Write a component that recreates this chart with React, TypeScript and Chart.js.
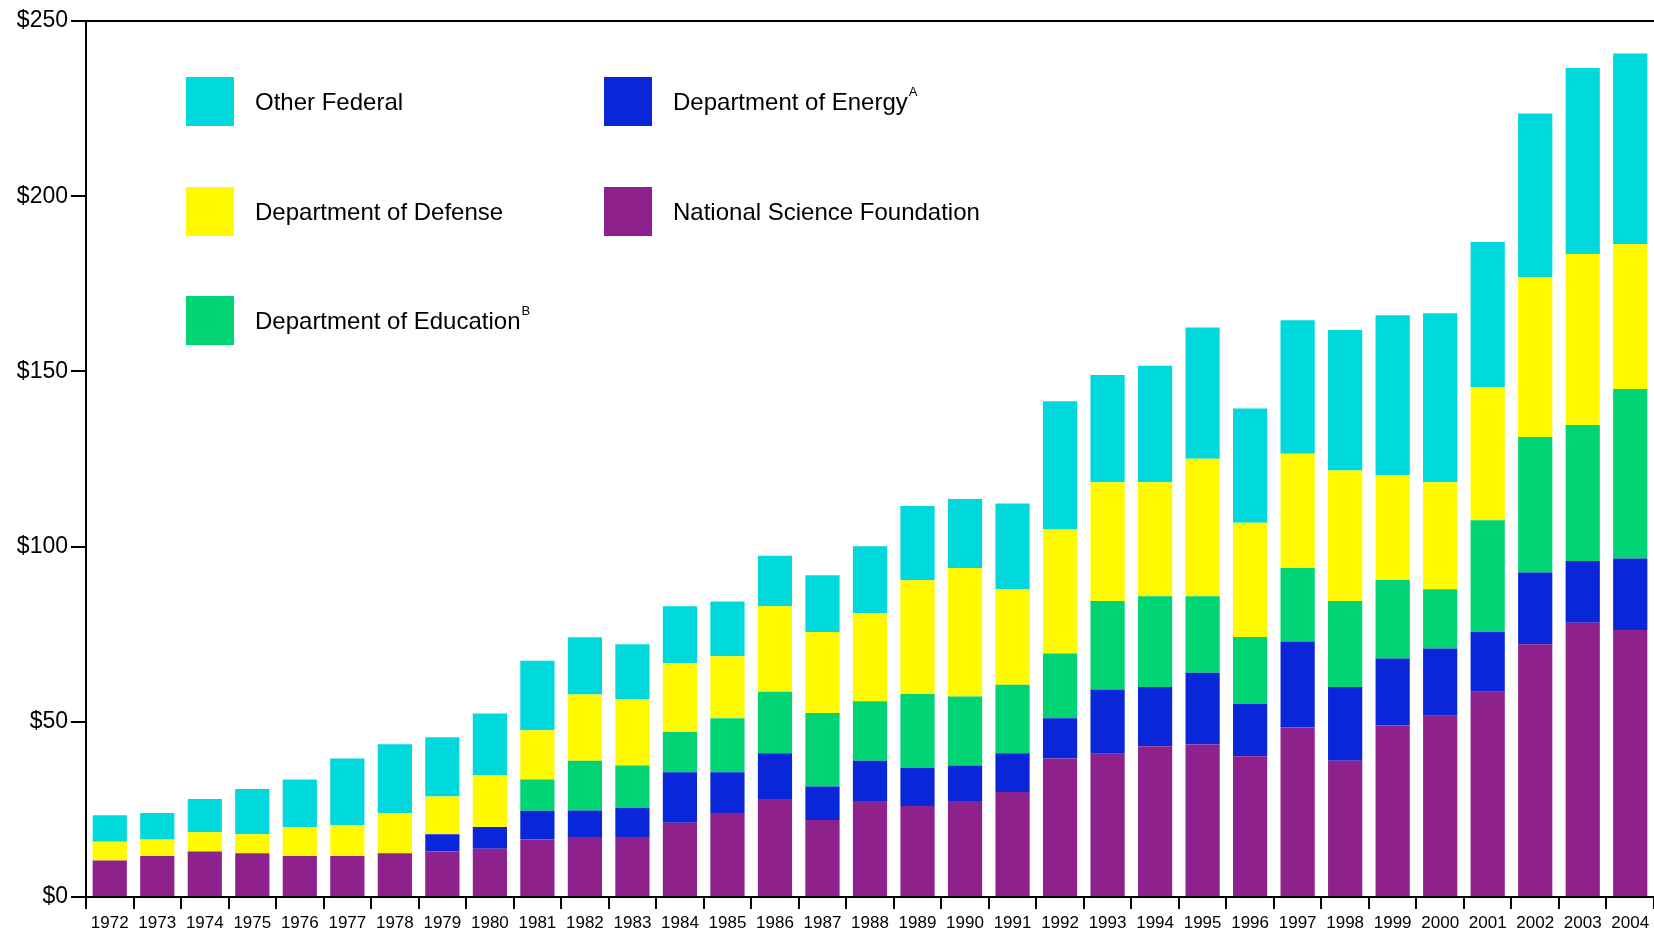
import React, { useEffect, useRef } from "react";
import { Chart, registerables } from "chart.js";

Chart.register(...registerables);

const years = [
  "1972", "1973", "1974", "1975", "1976", "1977", "1978", "1979", "1980", "1981", "1982",
  "1983", "1984", "1985", "1986", "1987", "1988", "1989", "1990", "1991", "1992", "1993",
  "1994", "1995", "1996", "1997", "1998", "1999", "2000", "2001", "2002", "2003", "2004",
];

const nsf = [
  10.4, 11.7, 13.0, 12.5, 11.7, 11.7, 12.5, 13.0, 13.8, 16.4, 17.1,
  17.1, 21.2, 24.0, 28.0, 22.0, 27.4, 26.0, 27.4, 30.0, 39.5, 40.9,
  43.0, 43.5, 40.2, 48.4, 38.9, 49.0, 51.7, 58.6, 72.1, 78.3, 76.2,
];
const energy = [
  0, 0, 0, 0, 0, 0, 0, 4.9, 6.2, 8.2, 7.6,
  8.3, 14.4, 11.6, 13.0, 9.5, 11.5, 10.9, 10.1, 11.0, 11.5, 18.3,
  16.9, 20.5, 14.9, 24.5, 21.0, 19.1, 19.2, 17.0, 20.5, 17.6, 20.4,
];
const education = [
  0, 0, 0, 0, 0, 0, 0, 0, 0, 8.9, 14.2,
  12.1, 11.5, 15.4, 17.6, 21.0, 17.0, 21.0, 19.7, 19.6, 18.5, 25.3,
  25.9, 21.8, 19.1, 21.0, 24.6, 22.4, 16.9, 31.9, 38.7, 38.8, 48.4,
];
const defense = [
  5.4, 4.7, 5.5, 5.4, 8.2, 8.8, 11.5, 10.8, 14.8, 14.1, 18.9,
  19.0, 19.6, 17.7, 24.4, 23.1, 25.1, 32.5, 36.7, 27.2, 35.4, 33.9,
  32.6, 39.3, 32.6, 32.6, 37.2, 29.9, 30.6, 38.0, 45.6, 48.8, 41.3,
];
const otherFederal = [
  7.5, 7.6, 9.5, 12.9, 13.6, 19.0, 19.6, 16.9, 17.6, 19.8, 16.3,
  15.6, 16.3, 15.6, 14.4, 16.2, 19.1, 21.2, 19.7, 24.5, 36.6, 30.6,
  33.2, 37.4, 32.6, 38.1, 40.1, 45.6, 48.2, 41.4, 46.7, 53.1, 54.4,
];

const yTickValues = [0, 50, 100, 150, 200, 250];

const COLORS = {
  other: "#00D9DB",
  defense: "#FFFA00",
  education: "#00D474",
  energy: "#0A26D9",
  nsf: "#8F218C",
};

const FONT = '"Liberation Sans", Arial, sans-serif';

const legendItems = [
  { text: "Other Federal", sup: "", color: COLORS.other, x: 186, y: 77 },
  { text: "Department of Defense", sup: "", color: COLORS.defense, x: 186, y: 187 },
  { text: "Department of Education", sup: "B", color: COLORS.education, x: 186, y: 296 },
  { text: "Department of Energy", sup: "A", color: COLORS.energy, x: 604, y: 77 },
  { text: "National Science Foundation", sup: "", color: COLORS.nsf, x: 604, y: 187 },
];

const legendPlugin = {
  id: "customLegend",
  afterDraw(chart: any) {
    const ctx = chart.ctx as CanvasRenderingContext2D;
    ctx.save();
    legendItems.forEach((it) => {
      ctx.fillStyle = it.color;
      ctx.fillRect(it.x, it.y, 48, 49);
      ctx.fillStyle = "#000";
      ctx.font = `24px ${FONT}`;
      ctx.textBaseline = "middle";
      ctx.textAlign = "left";
      const tx = it.x + 69;
      const ty = it.y + 26;
      ctx.fillText(it.text, tx, ty);
      if (it.sup) {
        const w = ctx.measureText(it.text).width;
        ctx.font = `13px ${FONT}`;
        ctx.fillText(it.sup, tx + w + 1, ty - 11);
      }
    });
    ctx.restore();
  },
};

export default function App() {
  const canvasRef = useRef<HTMLCanvasElement | null>(null);

  useEffect(() => {
    if (!canvasRef.current) return;
    const mk = (label: string, data: number[], color: string) => ({
      label,
      data,
      backgroundColor: color,
      borderWidth: 0,
      barPercentage: 0.72,
      categoryPercentage: 1,
    });
    const chart = new Chart(canvasRef.current, {
      type: "bar",
      data: {
        labels: years,
        datasets: [
          mk("National Science Foundation", nsf, COLORS.nsf),
          mk("Department of Energy", energy, COLORS.energy),
          mk("Department of Education", education, COLORS.education),
          mk("Department of Defense", defense, COLORS.defense),
          mk("Other Federal", otherFederal, COLORS.other),
        ],
      },
      options: {
        responsive: false,
        animation: false,
        layout: { padding: { top: 21, right: 0, bottom: 0, left: 0 } },
        plugins: {
          legend: { display: false },
          tooltip: { enabled: false },
        },
        scales: {
          x: {
            stacked: true,
            offset: true,
            afterFit: (s: any) => {
              s.height = 36;
            },
            grid: {
              display: true,
              offset: true,
              drawOnChartArea: false,
              drawTicks: true,
              tickLength: 12,
              color: "#000",
              lineWidth: 2,
            },
            border: { display: true, color: "#000", width: 2 },
            ticks: {
              autoSkip: false,
              maxRotation: 0,
              minRotation: 0,
              padding: 4,
              color: "#000",
              font: { family: FONT, size: 17 },
            },
          },
          y: {
            stacked: true,
            min: 0,
            max: 250,
            afterFit: (s: any) => {
              s.width = 86;
            },
            afterBuildTicks: (s: any) => {
              s.ticks = yTickValues.map((v) => ({ value: v }));
            },
            grid: {
              display: true,
              drawOnChartArea: true,
              drawTicks: true,
              tickLength: 15,
              lineWidth: 2,
              color: (c: any) => (c.tick && c.tick.value === 250 ? "#000" : "rgba(0,0,0,0)"),
              tickColor: "#000",
            },
            border: { display: true, color: "#000", width: 2 },
            ticks: {
              padding: 3,
              color: "#000",
              font: { family: FONT, size: 23 },
              callback: (v: any) => "$" + v,
            },
          },
        },
      },
      plugins: [legendPlugin],
    });
    return () => chart.destroy();
  }, []);

  return (
    <div style={{ position: "absolute", left: 0, top: 0, width: 1654, height: 933, background: "#fff" }}>
      <canvas ref={canvasRef} width={1654} height={933} style={{ display: "block" }} />
    </div>
  );
}
